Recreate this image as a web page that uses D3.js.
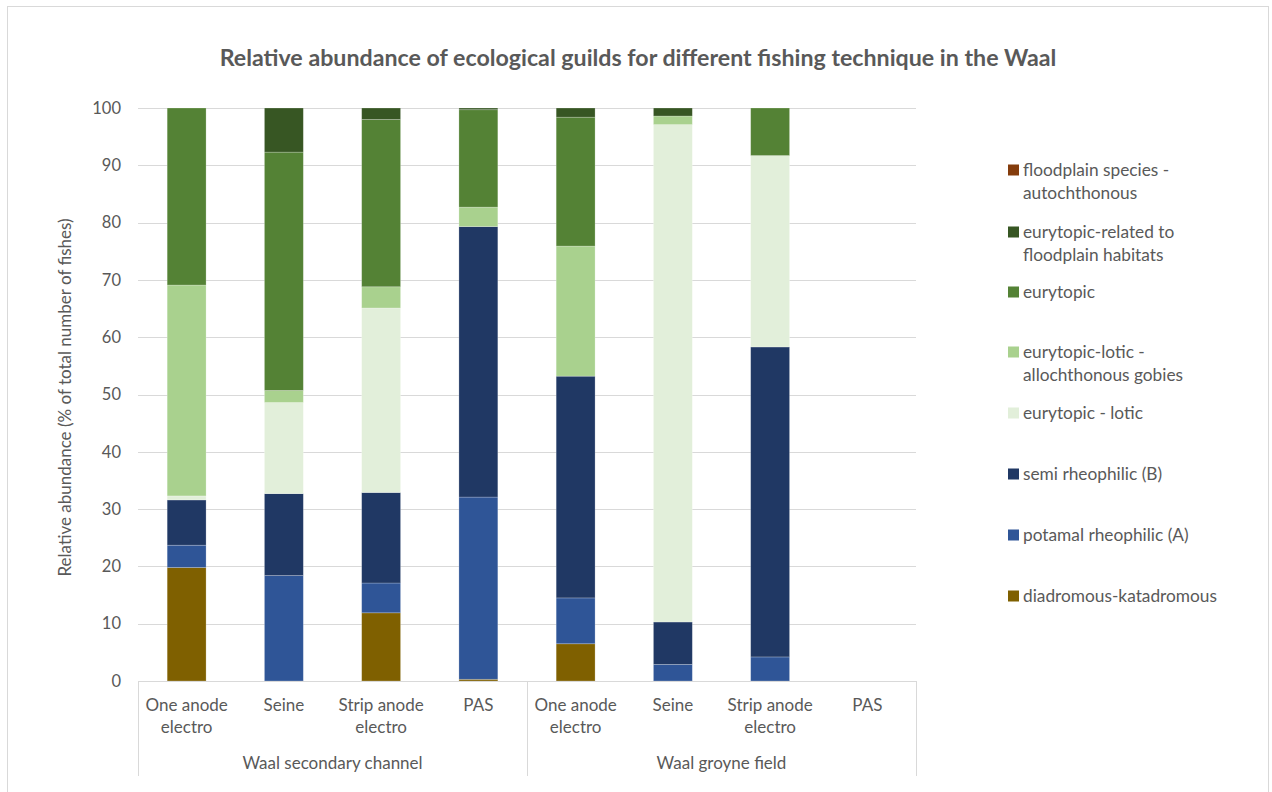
<!DOCTYPE html>
<html>
<head>
<meta charset="utf-8">
<script src="https://cdn.jsdelivr.net/npm/d3@7"></script>
<style>
  html, body { margin: 0; padding: 0; background: #fff; }
  svg { display: block; }
  text { font-family: Lato, "Open Sans", sans-serif; fill: #595959; }
</style>
</head>
<body>
<svg id="chart" width="1272" height="792"></svg>
<script>
// Fishing techniques within each water body
const techniques = ["One anode\nelectro", "Seine", "Strip anode\nelectro", "PAS"];
const areas = ["Waal secondary channel", "Waal groyne field"];

// Guild shares (% of total number of fishes), stacked bottom to top.
// Order of each array: 4 techniques in secondary channel, then 4 in groyne field.
const diadromousKatadromous   = [19.8, 0.0, 11.9, 0.3, 6.5, 0.0, 0.0, 0];
const potamalRheophilic       = [3.9, 18.4, 5.2, 31.8, 8.0, 2.9, 4.2, 0];
const semiRheophilic          = [7.9, 14.3, 15.8, 47.2, 38.7, 7.4, 54.1, 0];
const eurytopicLotic          = [0.7, 15.9, 32.2, 0.0, 0.0, 86.8, 33.4, 0];
const eurytopicLoticGobies    = [36.8, 2.1, 3.7, 3.4, 22.7, 1.5, 0.0, 0];
const eurytopic               = [30.9, 41.6, 29.2, 17.0, 22.5, 0.0, 8.3, 0];
const eurytopicFloodplain     = [0.0, 7.7, 2.0, 0.3, 1.6, 1.4, 0.0, 0];
const floodplainAutochthonous = [0, 0, 0, 0, 0, 0, 0, 0];

const yTicks = [0, 10, 20, 30, 40, 50, 60, 70, 80, 90, 100];

const series = [
  { name: "diadromous-katadromous", values: diadromousKatadromous, color: "#7F6000" },
  { name: "potamal rheophilic (A)", values: potamalRheophilic, color: "#2F5597" },
  { name: "semi rheophilic (B)", values: semiRheophilic, color: "#203864" },
  { name: "eurytopic - lotic", values: eurytopicLotic, color: "#E2EFDA" },
  { name: "eurytopic-lotic - allochthonous gobies", values: eurytopicLoticGobies, color: "#A9D18E" },
  { name: "eurytopic", values: eurytopic, color: "#548235" },
  { name: "eurytopic-related to floodplain habitats", values: eurytopicFloodplain, color: "#375623" },
  { name: "floodplain species - autochthonous", values: floodplainAutochthonous, color: "#843C0C" }
];

// Legend lines (wrapped as displayed), top to bottom
const legendLines = [
  ["floodplain species -", "autochthonous"],
  ["eurytopic-related to", "floodplain habitats"],
  ["eurytopic"],
  ["eurytopic-lotic -", "allochthonous gobies"],
  ["eurytopic - lotic"],
  ["semi rheophilic (B)"],
  ["potamal rheophilic (A)"],
  ["diadromous-katadromous"]
];

const svg = d3.select("#chart");

// chart area frame
svg.append("rect")
  .attr("x", 7.5).attr("y", 6.5)
  .attr("width", 1261).attr("height", 800)
  .attr("fill", "#fff").attr("stroke", "#d9d9d9").attr("stroke-width", 1);

const plot = { left: 138, right: 916, top: 108, bottom: 681 };

const keys = d3.range(areas.length * techniques.length);
const x = d3.scaleBand().domain(keys).range([plot.left, plot.right]).paddingInner(0.6).paddingOuter(0.3);
const y = d3.scaleLinear().domain([0, 100]).range([plot.bottom, plot.top]);

// title, fitted to its line
const title = svg.append("text")
  .attr("x", 638).attr("y", 66)
  .attr("text-anchor", "middle")
  .style("font-weight", "bold")
  .style("font-size", "20px")
  .text("Relative abundance of ecological guilds for different fishing technique in the Waal");
const tw = title.node().getComputedTextLength();
title.style("font-size", (20 * 837 / tw) + "px");

// gridlines
svg.append("g").selectAll("line").data(yTicks).join("line")
  .attr("x1", plot.left).attr("x2", plot.right)
  .attr("y1", d => Math.round(y(d)) + 0.5).attr("y2", d => Math.round(y(d)) + 0.5)
  .attr("stroke", "#d9d9d9").attr("stroke-width", 1);

// y tick labels
svg.append("g").selectAll("text").data(yTicks).join("text")
  .attr("x", 121).attr("y", d => y(d))
  .attr("dy", "0.35em")
  .attr("text-anchor", "end")
  .style("font-size", "16.5px")
  .text(d => d);

// y axis title
svg.append("text")
  .attr("transform", `translate(71,${(plot.top + plot.bottom) / 2 + 3}) rotate(-90)`)
  .attr("text-anchor", "middle")
  .style("font-size", "17px")
  .text("Relative abundance (% of total number of fishes)");

// stacked bars
const rows = keys.map(i => {
  const r = { key: i };
  series.forEach(s => { r[s.name] = s.values[i]; });
  return r;
});
const stacked = d3.stack().keys(series.map(s => s.name))(rows);

svg.append("g").selectAll("g").data(stacked).join("g")
  .attr("fill", (d, i) => series[i].color)
  .selectAll("rect").data(d => d.filter(p => p[1] - p[0] > 0)).join("rect")
  .attr("x", d => x(d.data.key))
  .attr("width", x.bandwidth())
  .attr("y", d => y(d[1]))
  .attr("height", d => y(d[0]) - y(d[1]))
  .attr("stroke", "rgba(255,255,255,0.3)")
  .attr("stroke-width", 0.75);

// category axis line and group separators
const axisG = svg.append("g").attr("stroke", "#d9d9d9").attr("stroke-width", 1);
axisG.append("line")
  .attr("x1", plot.left).attr("x2", plot.right)
  .attr("y1", plot.bottom + 0.5).attr("y2", plot.bottom + 0.5);
const groupEdges = d3.range(areas.length + 1).map(g => plot.left + g * techniques.length * (plot.right - plot.left) / keys.length);
axisG.selectAll(".sep").data(groupEdges).join("line")
  .attr("x1", d => Math.round(d) + 0.5).attr("x2", d => Math.round(d) + 0.5)
  .attr("y1", plot.bottom).attr("y2", 776);

// technique labels
const catLabels = svg.append("g").selectAll("text").data(keys).join("text")
  .attr("text-anchor", "middle")
  .style("font-size", "17px")
  .attr("transform", d => `translate(${x(d) + x.bandwidth() / 2},711)`);
catLabels.selectAll("tspan")
  .data(d => techniques[d % techniques.length].split("\n"))
  .join("tspan")
  .attr("x", 0)
  .attr("dy", (d, i) => i === 0 ? 0 : 22)
  .text(d => d);

// area labels
svg.append("g").selectAll("text").data(areas).join("text")
  .attr("x", (d, i) => (groupEdges[i] + groupEdges[i + 1]) / 2)
  .attr("y", 769)
  .attr("text-anchor", "middle")
  .style("font-size", "17px")
  .text(d => d);

// legend
const legendTop = [170, 232, 292, 352, 413, 474, 535, 596];
const legendColors = series.slice().reverse().map(s => s.color);
const leg = svg.append("g").selectAll("g").data(legendLines).join("g")
  .attr("transform", (d, i) => `translate(1008,${legendTop[i]})`);
leg.append("rect")
  .attr("x", 0).attr("y", -5.5)
  .attr("width", 11).attr("height", 11)
  .attr("fill", (d, i) => legendColors[i]);
leg.append("text")
  .style("font-size", "17.3px")
  .selectAll("tspan").data(d => d).join("tspan")
  .attr("x", 15)
  .attr("y", (d, i) => i * 23)
  .attr("dy", "0.35em")
  .text(d => d);
</script>
</body>
</html>
